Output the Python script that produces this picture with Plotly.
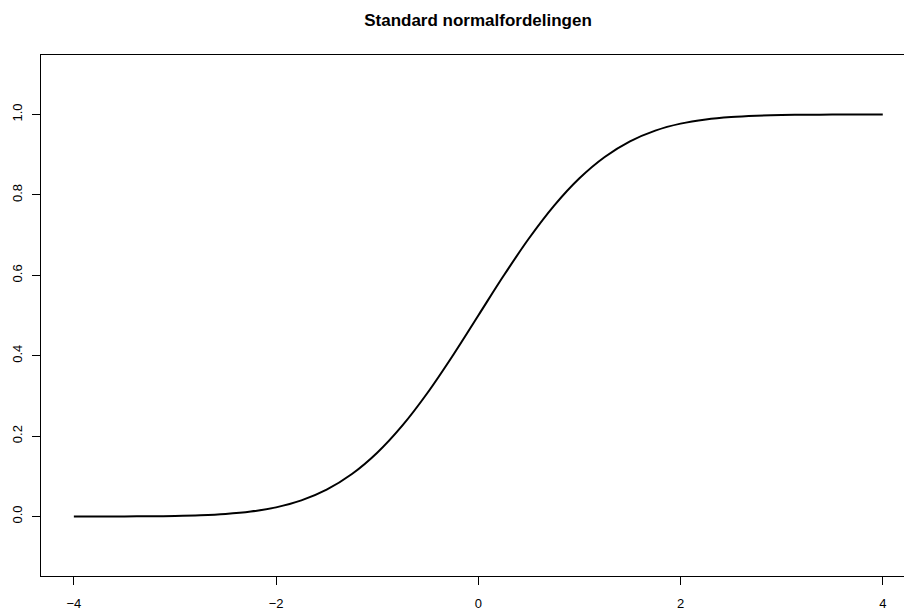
import plotly.graph_objects as go

# x values and standard normal CDF values
x_vals = [-4.0, -3.75, -3.5, -3.25, -3.0, -2.75, -2.5, -2.25, -2.0, -1.75, -1.5, -1.25,
          -1.0, -0.75, -0.5, -0.25, 0.0, 0.25, 0.5, 0.75, 1.0, 1.25, 1.5, 1.75,
          2.0, 2.25, 2.5, 2.75, 3.0, 3.25, 3.5, 3.75, 4.0]
cdf_vals = [0.00003, 0.00009, 0.00023, 0.00058, 0.00135, 0.00298, 0.00621, 0.01222,
            0.02275, 0.04006, 0.06681, 0.10565, 0.15866, 0.22663, 0.30854, 0.40129,
            0.5, 0.59871, 0.69146, 0.77337, 0.84134, 0.89435, 0.93319, 0.95994,
            0.97725, 0.98778, 0.99379, 0.99702, 0.99865, 0.99942, 0.99977, 0.99991, 0.99997]

x_ticks = [-4, -2, 0, 2, 4]
x_ticktext = ["\u22124", "\u22122", "0", "2", "4"]
y_ticks = [0.0, 0.2, 0.4, 0.6, 0.8, 1.0]
y_ticktext = ["0.0", "0.2", "0.4", "0.6", "0.8", "1.0"]
title_text = "Standard normalfordelingen"

fig = go.Figure()
fig.add_trace(go.Scatter(x=x_vals, y=cdf_vals, mode="lines",
                         line=dict(color="black", width=2, shape="spline"),
                         showlegend=False, hoverinfo="skip"))

font_family = "Liberation Sans, Arial, Helvetica, sans-serif"

fig.update_layout(
    width=904, height=610,
    margin=dict(l=41, r=0, t=55, b=34, pad=0),
    plot_bgcolor="white", paper_bgcolor="white",
    font=dict(family=font_family, size=13, color="black"),
    title=dict(text="<b>" + title_text + "</b>", x=478 / 904, xref="container", xanchor="center",
               y=1 - 20 / 610, yref="container", yanchor="middle",
               font=dict(family=font_family, size=17, color="black")),
    xaxis=dict(range=[-4.325, 4.21], tickvals=x_ticks, ticktext=x_ticktext,
               showgrid=False, zeroline=False, showline=True, linecolor="black",
               linewidth=1, mirror=True, ticks="outside", ticklen=8, tickcolor="black",
               tickwidth=1, ticklabelstandoff=7, tickfont=dict(size=13, color="black")),
    yaxis=dict(range=[-0.148, 1.148], tickvals=y_ticks, ticktext=y_ticktext,
               showgrid=False, zeroline=False, showline=True, linecolor="black",
               linewidth=1, mirror=False, ticks="outside", ticklen=8, tickcolor="black",
               tickwidth=1, tickangle=-90, ticklabelstandoff=5,
               tickfont=dict(size=13, color="black")),
)

fig.write_html("out.html")
